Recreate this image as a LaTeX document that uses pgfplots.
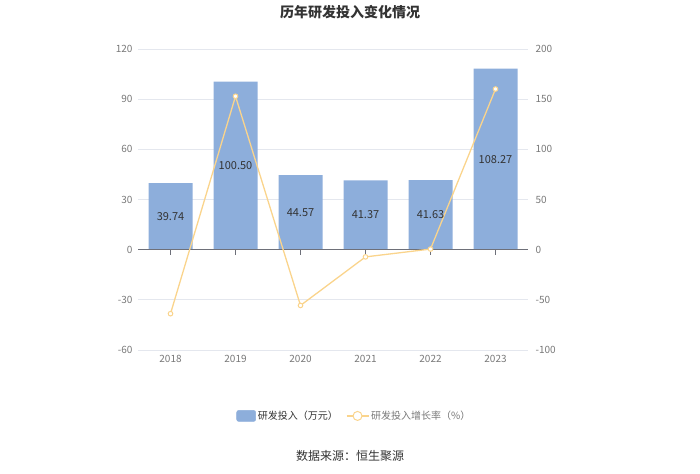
\documentclass[border=0pt]{standalone}
\usepackage{pgfplots}
\pgfplotsset{compat=1.18}
\usepackage{pgfplotstable}
\usepackage{fontspec}
\setmainfont{Noto Sans CJK SC}
\definecolor{barblue}{RGB}{141,174,219}
\definecolor{linecol}{RGB}{250,212,140}
\definecolor{gridgray}{RGB}{228,231,238}
\definecolor{tickgray}{RGB}{120,120,120}
\definecolor{axisgray}{RGB}{110,112,121}
\definecolor{titlecol}{RGB}{51,51,51}
\pgfplotstableread{
x year v lab
0 2018 39.74 39.74
1 2019 100.50 100.50
2 2020 44.57 44.57
3 2021 41.37 41.37
4 2022 41.63 41.63
5 2023 108.27 108.27
}\bars
\pgfplotstableread{
x g
0 -63.8
1 152.9
2 -55.6
3 -7.2
4 0.6
5 160.1
}\growth
\begin{document}
\begin{tikzpicture}
\useasboundingbox (0pt,0pt) rectangle (700pt,473pt);
\node[font=\fontsize{14}{16}\selectfont\bfseries, text=titlecol] at (350pt,461pt) {历年研发投入变化情况};
\node[font=\fontsize{12}{14}\selectfont, text=titlecol] at (350pt,17pt) {数据来源：恒生聚源};
\begin{axis}[
  scale only axis, width=390pt, height=301pt,
  at={(138pt,123pt)}, anchor=south west,
  xmin=-0.5, xmax=5.5, ymin=-60, ymax=120,
  ytick={-60,-30,0,30,60,90,120},
  xtick={0,1,2,3,4,5},
  xticklabels={2018,2019,2020,2021,2022,2023},
  axis line style={draw=none},
  major tick length=0pt,
  ymajorgrids, grid style={color=gridgray, line width=0.8pt},
  tick label style={font=\fontsize{10}{12}\selectfont, text=tickgray},
  /pgf/number format/assume math mode=true,
  yticklabel style={xshift=-2pt},
  xticklabel style={yshift=-2pt},
  clip=false,
]
\addplot[ybar, bar width=44pt, bar shift=0pt, fill=barblue, draw=none] table[x=x, y=v] {\bars};
\draw[color=axisgray, line width=1pt] (axis cs:-0.5,0) -- (axis cs:5.5,0);
\pgfplotsinvokeforeach{0,1,2,3,4,5}{\draw[color=axisgray, line width=0.8pt] (axis cs:#1,0) -- ++(0pt,-5pt);}
\end{axis}
\begin{axis}[
  scale only axis, width=390pt, height=301pt,
  at={(138pt,123pt)}, anchor=south west,
  xmin=-0.5, xmax=5.5, ymin=-100, ymax=200,
  ytick={-100,-50,0,50,100,150,200},
  axis y line*=right, axis x line=none,
  axis line style={draw=none},
  major tick length=0pt,
  tick label style={font=\fontsize{10}{12}\selectfont, text=tickgray},
  /pgf/number format/assume math mode=true,
  yticklabel style={xshift=4pt},
  clip=false,
  legend columns=2,
  legend style={at={(0.555,-0.219)}, anchor=center, draw=none, fill=none,
    font=\fontsize{10}{12}\selectfont, text=titlecol,
    /tikz/every even column/.append style={column sep=6pt}},
]
\addlegendimage{legend image code/.code={\fill[barblue, rounded corners=2pt] (0pt,-5.5pt) rectangle (19pt,5.5pt);}}
\addlegendentry{研发投入（万元）}
\addplot[color=linecol, line width=1.3pt, mark=*, mark size=2.3pt, mark options={fill=white, line width=1pt},
  legend image code/.code={\draw[linecol, line width=1.3pt] (0pt,0pt) -- (22pt,0pt); \draw[linecol, fill=white, line width=1pt] (11pt,0pt) circle (4.5pt);}]
  table[x=x, y=g] {\growth};
\addlegendentry[text=tickgray]{研发投入增长率（\%）}
\end{axis}
\begin{axis}[
  scale only axis, width=390pt, height=301pt,
  at={(138pt,123pt)}, anchor=south west,
  xmin=-0.5, xmax=5.5, ymin=-60, ymax=120,
  hide axis, clip=false,
]
\addplot[draw=none, mark=none, nodes near coords, point meta=explicit symbolic,
  nodes near coords style={anchor=center, font=\fontsize{11}{13}\selectfont, text=titlecol}]
  table[x=x, y expr=\thisrow{v}/2, meta=lab] {\bars};
\end{axis}
\end{tikzpicture}
\end{document}
